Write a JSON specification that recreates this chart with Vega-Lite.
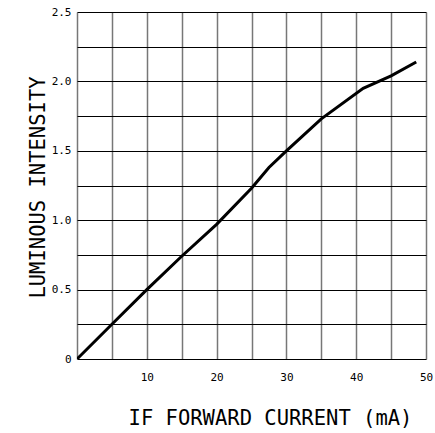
{
  "$schema": "https://vega.github.io/schema/vega-lite/v6.json",
  "autosize": {"type": "none"},
  "padding": {"left": 77, "top": 12, "right": 9, "bottom": 74},
  "width": 349,
  "height": 347,
  "background": "white",
  "config": {"view": {"stroke": null}},
  "data": {
    "values": [
      {"current": 0, "intensity": 0},
      {"current": 5, "intensity": 0.25},
      {"current": 10, "intensity": 0.5},
      {"current": 15, "intensity": 0.74},
      {"current": 20, "intensity": 0.97},
      {"current": 25, "intensity": 1.23},
      {"current": 27.5, "intensity": 1.38},
      {"current": 30, "intensity": 1.5},
      {"current": 35, "intensity": 1.73},
      {"current": 41, "intensity": 1.95},
      {"current": 45, "intensity": 2.04},
      {"current": 48.6, "intensity": 2.14}
    ]
  },
  "mark": {"type": "line", "color": "black", "strokeWidth": 3, "clip": true},
  "encoding": {
    "x": {
      "field": "current",
      "type": "quantitative",
      "scale": {"domain": [0, 50], "nice": false, "zero": false},
      "axis": {
        "values": [0, 5, 10, 15, 20, 25, 30, 35, 40, 45, 50],
        "labelExpr": "datum.value > 0 && datum.value % 10 == 0 ? format(datum.value, 'd') : ''",
        "domain": false,
        "ticks": false,
        "tickSize": 0,
        "grid": true,
        "gridColor": "#777777",
        "gridOpacity": 1,
        "gridWidth": 1.5,
        "labelFont": "DejaVu Sans Mono",
        "labelFontSize": 11,
        "labelColor": "black",
        "labelPadding": 12,
        "labelFlush": false,
        "title": "IF FORWARD CURRENT (mA)",
        "titleFont": "DejaVu Sans Mono",
        "titleFontSize": 20.5,
        "titleFontWeight": "normal",
        "titleColor": "black",
        "titleX": 193,
        "titleY": 59,
        "titleBaseline": "middle",
        "titleAlign": "center"
      }
    },
    "y": {
      "field": "intensity",
      "type": "quantitative",
      "scale": {"domain": [0, 2.5], "nice": false},
      "axis": {
        "values": [0, 0.25, 0.5, 0.75, 1, 1.25, 1.5, 1.75, 2, 2.25, 2.5],
        "labelExpr": "datum.value == 0 ? '0' : (datum.value * 2 % 1 == 0 ? format(datum.value, '.1f') : '')",
        "domain": false,
        "ticks": false,
        "tickSize": 0,
        "grid": true,
        "gridColor": "black",
        "gridOpacity": 1,
        "gridWidth": 1.2,
        "labelFont": "DejaVu Sans Mono",
        "labelFontSize": 11,
        "labelColor": "black",
        "labelPadding": 6,
        "labelFlush": false,
        "title": "LUMINOUS INTENSITY",
        "titleFont": "DejaVu Sans Mono",
        "titleFontSize": 20.5,
        "titleFontWeight": "normal",
        "titleColor": "black",
        "titleAngle": 270,
        "titleX": -39,
        "titleY": 175,
        "titleBaseline": "middle",
        "titleAlign": "center"
      }
    }
  }
}
